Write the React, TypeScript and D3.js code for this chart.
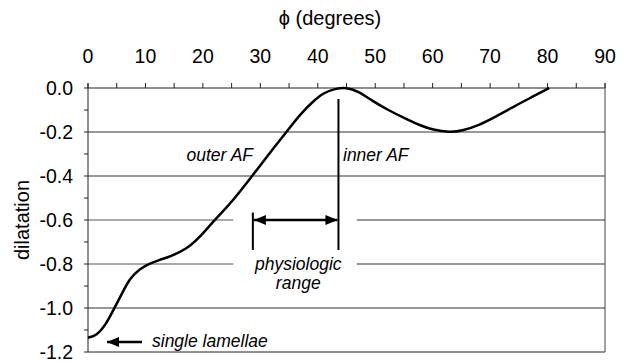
import React from "react";
import * as d3 from "d3";

const W = 626;
const H = 362;

// curve data: phi (degrees) and dilatation
const phi = [0, 1.5, 3, 4.4, 6, 7.3, 9, 10.8, 12.5, 14.3, 17.2, 19.5, 21.8, 23.5, 25.3, 28.5, 31.1, 34.6, 36.9, 39.2, 41, 43, 45, 47, 49.6, 52, 55.7, 58, 60, 63, 65, 68.2, 71, 74, 77, 80.3];
const dilatation = [-1.135, -1.125, -1.08, -1.01, -0.93, -0.865, -0.822, -0.797, -0.781, -0.766, -0.732, -0.677, -0.607, -0.56, -0.509, -0.403, -0.313, -0.198, -0.12, -0.06, -0.022, -0.003, 0.003, -0.014, -0.06, -0.097, -0.145, -0.172, -0.19, -0.202, -0.196, -0.168, -0.13, -0.086, -0.045, 0];

const xTickLabels = [0, 10, 20, 30, 40, 50, 60, 70, 80, 90];
const xMinorTicks = d3.range(0, 91, 5);
const yTickLabels = [0, -0.2, -0.4, -0.6, -0.8, -1.0, -1.2];
const yMinorTicks = d3.range(0, 13).map((i) => -i * 0.1);
const gridFull = [-0.2, -0.4, -1.0];
const gridBroken = [-0.6, -0.8];

const FONT = "'Liberation Sans', Arial, Helvetica, sans-serif";

export default function App() {
  const x = d3.scaleLinear().domain([0, 90]).range([88, 605]);
  const y = d3.scaleLinear().domain([-1.2, 0]).range([352, 88]);

  const line = d3
    .line<number>()
    .x((_, i) => x(phi[i]))
    .y((d) => y(d))
    .curve(d3.curveBasis);

  const gapL = x(25.3);
  const gapR = x(46.8);
  const innerX = x(43.6);
  const leftBarX = x(28.7);
  const arrowY = y(-0.6);

  return (
    <div style={{ position: "fixed", left: 0, top: 0 }}>
      <svg width={W} height={H} style={{ display: "block", background: "#fff" }} fontFamily={FONT}>
        <defs>
          <marker id="ah" viewBox="0 0 12 10" refX="12" refY="5" markerWidth="12" markerHeight="10" markerUnits="userSpaceOnUse" orient="auto-start-reverse">
            <path d="M0,0 L12,5 L0,10 Z" fill="#000" />
          </marker>
        </defs>

        {/* title */}
        <text x={330} y={25} fontSize={20} textAnchor="middle" fill="#000">ϕ (degrees)</text>

        {/* top tick labels */}
        {xTickLabels.map((t) => (
          <text key={"xl" + t} x={x(t)} y={63} fontSize={19.5} textAnchor="middle" fill="#000">{t}</text>
        ))}

        {/* y tick labels */}
        {yTickLabels.map((t) => (
          <text key={"yl" + t} x={73} y={y(t) + 7} fontSize={19.5} textAnchor="end" fill="#000">{t.toFixed(1)}</text>
        ))}

        {/* y axis label */}
        <text transform={`translate(29,220) rotate(-90)`} fontSize={20} textAnchor="middle" fill="#000">dilatation</text>

        {/* gridlines */}
        {gridFull.map((g) => (
          <line key={"gf" + g} x1={x(0)} x2={x(90)} y1={y(g)} y2={y(g)} stroke="#333" strokeWidth={1} />
        ))}
        {gridBroken.map((g) => (
          <g key={"gb" + g}>
            <line x1={x(0)} x2={gapL} y1={y(g)} y2={y(g)} stroke="#555" strokeWidth={1} />
            <line x1={gapR} x2={x(90)} y1={y(g)} y2={y(g)} stroke="#333" strokeWidth={1} />
          </g>
        ))}

        {/* frame */}
        <line x1={x(0)} x2={x(90)} y1={y(0)} y2={y(0)} stroke="#222" strokeWidth={1} />
        <line x1={x(0)} x2={x(90)} y1={y(-1.2)} y2={y(-1.2)} stroke="#222" strokeWidth={1} />
        <line x1={x(0)} x2={x(0)} y1={y(0) - 5} y2={y(-1.2)} stroke="#222" strokeWidth={1} />
        <line x1={x(90)} x2={x(90)} y1={y(0) - 5} y2={y(-1.2)} stroke="#444" strokeWidth={1} />

        {/* top ticks */}
        {xMinorTicks.map((t) => (
          <line key={"xt" + t} x1={x(t)} x2={x(t)} y1={y(0)} y2={y(0) - 5} stroke="#222" strokeWidth={1} />
        ))}
        {/* left ticks */}
        {yMinorTicks.map((t) => (
          <line key={"yt" + t} x1={x(0) - 4} x2={x(0)} y1={y(t)} y2={y(t)} stroke="#222" strokeWidth={1} />
        ))}

        {/* curve */}
        <path d={line(dilatation) || ""} fill="none" stroke="#000" strokeWidth={2.5} strokeLinejoin="round" />

        {/* inner AF marker and physiologic range */}
        <line x1={innerX} x2={innerX} y1={y(-0.05)} y2={y(-0.736)} stroke="#000" strokeWidth={2} />
        <line x1={leftBarX} x2={leftBarX} y1={y(-0.566)} y2={y(-0.736)} stroke="#000" strokeWidth={2} />
        <line x1={leftBarX + 1} x2={innerX - 1} y1={arrowY} y2={arrowY} stroke="#000" strokeWidth={2.5} markerStart="url(#ah)" markerEnd="url(#ah)" />

        <text x={253} y={161} fontSize={17.5} fontStyle="italic" textAnchor="end" fill="#000">outer AF</text>
        <text x={343} y={161} fontSize={17.5} fontStyle="italic" fill="#000">inner AF</text>
        <text x={x(36.6)} y={270} fontSize={17.5} fontStyle="italic" textAnchor="middle" fill="#000">physiologic</text>
        <text x={x(36.6)} y={289} fontSize={17.5} fontStyle="italic" textAnchor="middle" fill="#000">range</text>

        {/* single lamellae */}
        <line x1={142} x2={107} y1={342} y2={342} stroke="#000" strokeWidth={2.5} markerEnd="url(#ah)" />
        <text x={152} y={347} fontSize={17.5} fontStyle="italic" fill="#000">single lamellae</text>
      </svg>
    </div>
  );
}
